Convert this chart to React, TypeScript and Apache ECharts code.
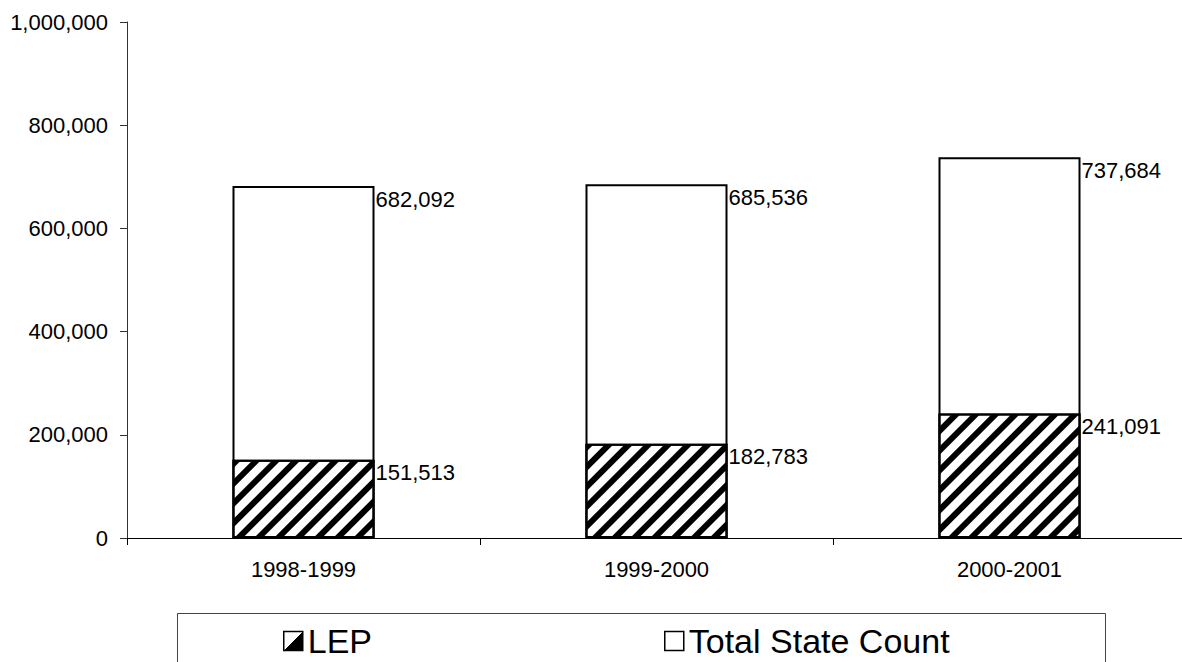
import React, { useEffect, useRef } from "react";
import * as echarts from "echarts";

const categories = ["1998-1999", "1999-2000", "2000-2001"];
const lepValues = [151513, 182783, 241091];
const totalValues = [682092, 685536, 737684];
const seriesNames = ["LEP", "Total State Count"];
const yTicks = { min: 0, max: 1000000, interval: 200000 };

const FONT = "'Liberation Sans', Arial, sans-serif";
const fmt = (v: number) => v.toLocaleString("en-US");

export default function App() {
  const ref = useRef<HTMLDivElement>(null);
  useEffect(() => {
    if (!ref.current) return;
    const chart = echarts.init(ref.current, null, { renderer: "svg" });
    const label = {
      show: true,
      position: ["100%", 0],
      align: "left",
      verticalAlign: "top",
      offset: [1, 2],
      color: "#000",
      fontSize: 22,
      fontFamily: FONT,
      formatter: (p: any) => fmt(p.value),
    };
    chart.setOption({
      animation: false,
      backgroundColor: "#fff",
      textStyle: { fontFamily: FONT },
      grid: {
        left: 127,
        top: 22,
        width: 1059,
        height: 516,
        containLabel: false,
        outerBoundsMode: "none",
      },
      legend: {
        left: 283,
        top: 623,
        orient: "horizontal",
        padding: 0,
        itemWidth: 19,
        itemHeight: 19,
        itemGap: 292,
        selectedMode: false,
        textStyle: { fontSize: 34, lineHeight: 36, color: "#000", fontFamily: FONT },
        data: [
          {
            name: seriesNames[0],
            icon: "rect",
            itemStyle: {
              color: new echarts.graphic.LinearGradient(0, 0, 1, 1, [
                { offset: 0, color: "#fff" },
                { offset: 0.5, color: "#fff" },
                { offset: 0.5, color: "#000" },
                { offset: 1, color: "#000" },
              ]),
              borderColor: "#000",
              borderWidth: 1.5,
              decal: "none",
            },
          },
          {
            name: seriesNames[1],
            icon: "rect",
            itemStyle: { color: "#fff", borderColor: "#000", borderWidth: 1.5 },
          },
        ],
      },
      graphic: [
        {
          type: "rect",
          shape: { x: 177.5, y: 613.5, width: 928, height: 100 },
          style: { fill: "none", stroke: "#444", lineWidth: 1 },
          silent: true,
        },
      ],
      xAxis: {
        type: "category",
        data: categories,
        axisLine: { lineStyle: { color: "#000", width: 1 } },
        axisTick: { show: true, length: 7, lineStyle: { color: "#000" } },
        axisLabel: {
          interval: 0,
          margin: 20,
          fontSize: 22,
          color: "#000",
          fontFamily: FONT,
        },
        splitLine: { show: false },
      },
      yAxis: {
        type: "value",
        min: yTicks.min,
        max: yTicks.max,
        interval: yTicks.interval,
        axisLine: { show: true, lineStyle: { color: "#333", width: 1 } },
        axisTick: { show: true, length: 7, lineStyle: { color: "#333" } },
        axisLabel: {
          margin: 19,
          fontSize: 22,
          color: "#000",
          fontFamily: FONT,
          formatter: (v: number) => fmt(v),
        },
        splitLine: { show: false },
      },
      series: [
        {
          name: seriesNames[1],
          type: "bar",
          data: totalValues,
          barWidth: 142,
          barGap: "-100%",
          itemStyle: { color: "#fff", borderColor: "#000", borderWidth: 2 },
          label,
          z: 2,
        },
        {
          name: seriesNames[0],
          type: "bar",
          data: lepValues,
          barWidth: 142,
          barGap: "-100%",
          itemStyle: {
            color: "#fff",
            borderColor: "#000",
            borderWidth: 2,
            decal: {
              symbol: "rect",
              symbolSize: 1,
              color: "#000",
              backgroundColor: "#fff",
              dashArrayX: [1, 0],
              dashArrayY: [6, 8],
              rotation: -Math.PI / 4,
            },
          },
          label,
          z: 3,
        },
      ],
    });
    return () => chart.dispose();
  }, []);
  return (
    <div
      ref={ref}
      style={{ position: "fixed", left: 0, top: 0, width: 1182, height: 662 }}
    />
  );
}
